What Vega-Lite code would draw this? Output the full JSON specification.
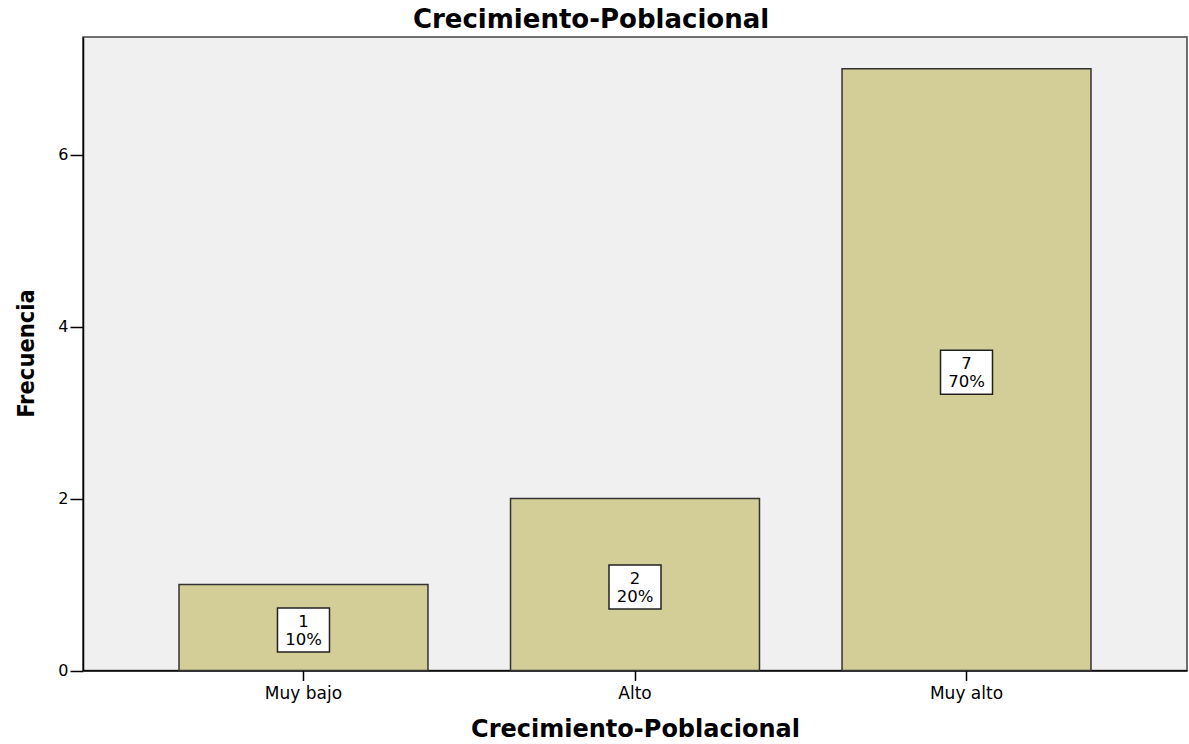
{
  "$schema": "https://vega.github.io/schema/vega-lite/v6.json",
  "width": 1104,
  "height": 633.5,
  "autosize": "none",
  "padding": {"left": 83, "top": 37, "right": 2, "bottom": 73.5},
  "background": "white",
  "title": {
    "text": "Crecimiento-Poblacional",
    "font": "DejaVu Sans",
    "fontSize": 26,
    "fontWeight": "bold",
    "color": "#000000",
    "anchor": "middle",
    "frame": "group",
    "dx": -44,
    "dy": 27,
    "offset": 10,
    "baseline": "alphabetic"
  },
  "config": {
    "view": {"fill": "#F0F0F0", "stroke": "#444444", "strokeWidth": 1.5},
    "axis": {"grid": false},
    "axisX": {
      "titleFont": "DejaVu Sans",
      "titleFontSize": 24,
      "titleFontWeight": "bold",
      "titleColor": "#000000",
      "titleBaseline": "alphabetic",
      "titleY": 66,
      "labelFont": "DejaVu Sans",
      "labelFontSize": 17,
      "labelColor": "#000000",
      "labelAngle": 0,
      "labelPadding": 4.5,
      "tickSize": 10,
      "tickColor": "#000000",
      "tickWidth": 1.5,
      "domainColor": "#000000",
      "domainWidth": 1.5
    },
    "axisY": {
      "titleFont": "Liberation Sans Narrow, DejaVu Sans Condensed, Liberation Sans",
      "titleFontSize": 23.5,
      "titleFontWeight": "bold",
      "titleColor": "#000000",
      "titleAngle": -90,
      "titleAlign": "center",
      "titleBaseline": "alphabetic",
      "titleX": -50,
      "titleY": 316,
      "labelFont": "DejaVu Sans",
      "labelFontSize": 16,
      "labelColor": "#000000",
      "labelPadding": 2,
      "tickSize": 13,
      "tickColor": "#000000",
      "tickWidth": 1.5,
      "domainColor": "#000000",
      "domainWidth": 1.5
    }
  },
  "data": {
    "values": [
      {"nivel": "Muy bajo", "frecuencia": 1, "porcentaje": 10},
      {"nivel": "Alto", "frecuencia": 2, "porcentaje": 20},
      {"nivel": "Muy alto", "frecuencia": 7, "porcentaje": 70}
    ]
  },
  "transform": [
    {"calculate": "datum.frecuencia / 2", "as": "medio"},
    {"calculate": "datum.frecuencia + '\\n' + datum.porcentaje + '%'", "as": "etiqueta"}
  ],
  "encoding": {
    "x": {
      "field": "nivel",
      "type": "nominal",
      "sort": ["Muy bajo", "Alto", "Muy alto"],
      "scale": {"paddingInner": 0.249, "paddingOuter": 0.2896},
      "axis": {"title": "Crecimiento-Poblacional"}
    }
  },
  "layer": [
    {
      "mark": {"type": "bar", "fill": "#D3CE97", "stroke": "#333333", "strokeWidth": 1.5},
      "encoding": {
        "y": {
          "field": "frecuencia",
          "type": "quantitative",
          "scale": {"domain": [0, 7.37], "nice": false, "zero": true},
          "axis": {"title": "Frecuencia", "values": [0, 2, 4, 6]}
        }
      }
    },
    {
      "mark": {
        "type": "point",
        "shape": "M-1,-0.846H1V0.846H-1Z",
        "size": 2704,
        "filled": true,
        "fill": "#FFFFFF",
        "stroke": "#222222",
        "strokeWidth": 1.5,
        "opacity": 1,
        "fillOpacity": 1,
        "strokeOpacity": 1,
        "yOffset": 2.5
      },
      "encoding": {
        "y": {"field": "medio", "type": "quantitative", "axis": {"title": "Frecuencia", "values": [0, 2, 4, 6]}}
      }
    },
    {
      "mark": {
        "type": "text",
        "font": "DejaVu Sans",
        "fontSize": 16.5,
        "lineBreak": "\n",
        "lineHeight": 18,
        "baseline": "middle",
        "align": "center",
        "yOffset": -6,
        "color": "#000000"
      },
      "encoding": {
        "y": {"field": "medio", "type": "quantitative", "axis": {"title": "Frecuencia", "values": [0, 2, 4, 6]}},
        "text": {"field": "etiqueta", "type": "nominal"}
      }
    }
  ]
}
